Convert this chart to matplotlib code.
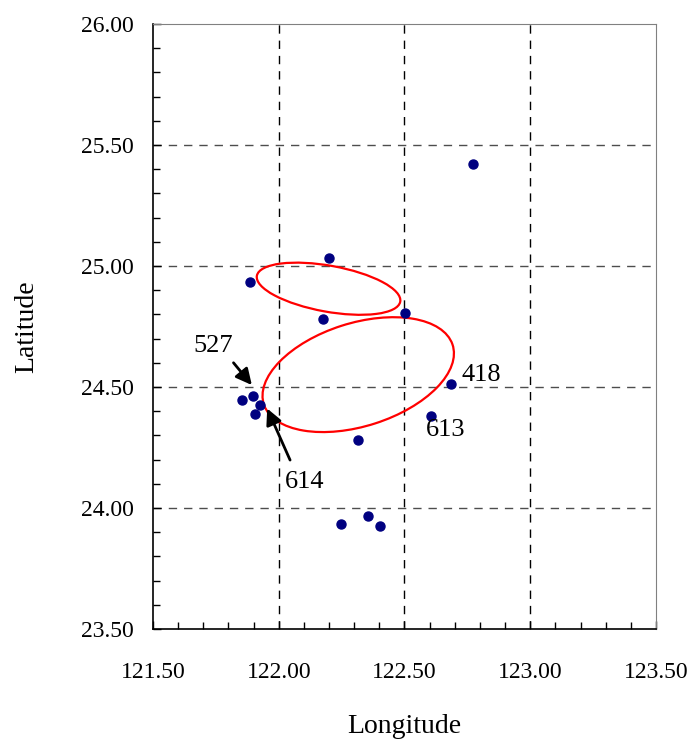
import matplotlib
matplotlib.use('Agg')
import matplotlib.pyplot as plt
from matplotlib.patches import Ellipse
from matplotlib.ticker import MultipleLocator, FormatStrFormatter

plt.rcParams['font.family'] = ['Liberation Serif', 'DejaVu Serif']

# station positions (lon, lat)
lon = [122.772, 122.200, 121.886, 122.176, 122.502, 122.685, 122.605, 122.315,
       121.855, 121.896, 121.925, 121.906, 122.246, 122.356, 122.404]
lat = [25.420, 25.033, 24.934, 24.781, 24.806, 24.512, 24.380, 24.281,
       24.446, 24.461, 24.424, 24.387, 23.935, 23.967, 23.927]

# error ellipses: center lon, center lat, width, height, angle
ell_lon = [122.198, 122.316]
ell_lat = [24.906, 24.551]
ell_w = [0.58, 0.79]
ell_h = [0.19, 0.425]
ell_ang = [-10.7, 18.5]

# labels with arrows: text, text pos, arrow tail, arrow head
arrow_labels = ['527', '614']
arrow_text = [(121.739, 24.669), (122.104, 24.109)]
arrow_tail = [(121.820, 24.600), (122.045, 24.198)]
arrow_head = [(121.893, 24.508), (121.954, 24.411)]

# plain labels
plain_labels = ['418', '613']
plain_pos = [(122.725, 24.55), (122.585, 24.322)]

fig = plt.figure(figsize=(6.94, 7.42), dpi=100)
ax = fig.add_axes([0.2205, 0.1523, 0.7247, 0.8154])

ax.set_xlim(121.5, 123.5)
ax.set_ylim(23.5, 26.0)

for v in [122.0, 122.5, 123.0]:
    ax.axvline(v, color='black', lw=1.0, ls=(0, (6, 5)), zorder=1)
for v in [24.0, 24.5, 25.0, 25.5]:
    ax.axhline(v, color='0.3', lw=1.0, ls=(0, (6, 5)), zorder=1)

for i in range(len(ell_lon)):
    e = Ellipse((ell_lon[i], ell_lat[i]), ell_w[i], ell_h[i], angle=ell_ang[i],
                fill=False, edgecolor='red', lw=1.6, zorder=2)
    ax.add_patch(e)

ax.plot(lon, lat, 'o', color='#000080', markersize=6.5, zorder=3)

for i in range(len(arrow_labels)):
    ax.annotate('', xy=arrow_head[i], xytext=arrow_tail[i],
                arrowprops=dict(arrowstyle='-|>', color='black', lw=2,
                                mutation_scale=24, shrinkA=0, shrinkB=0), zorder=4)
    ax.text(arrow_text[i][0], arrow_text[i][1], arrow_labels[i], fontsize=19,
            ha='center', va='center')

for i in range(len(plain_labels)):
    ax.text(plain_pos[i][0], plain_pos[i][1], plain_labels[i], fontsize=19,
            ha='left', va='center')

ax.xaxis.set_major_locator(MultipleLocator(0.5))
ax.xaxis.set_minor_locator(MultipleLocator(0.1))
ax.yaxis.set_major_locator(MultipleLocator(0.5))
ax.yaxis.set_minor_locator(MultipleLocator(0.1))
ax.xaxis.set_major_formatter(FormatStrFormatter('%.2f'))
ax.yaxis.set_major_formatter(FormatStrFormatter('%.2f'))

ax.tick_params(which='both', direction='in', top=False, right=False, labelsize=17)
ax.tick_params(which='major', length=6, width=1)
ax.tick_params(which='minor', length=5, width=1)
ax.tick_params(axis='x', which='major', pad=24)
ax.tick_params(axis='y', which='major', pad=14)

ax.spines['left'].set_color('black')
ax.spines['bottom'].set_color('black')
ax.spines['left'].set_linewidth(1.2)
ax.spines['bottom'].set_linewidth(1.2)
ax.spines['top'].set_color('0.5')
ax.spines['right'].set_color('0.5')

ax.set_xlabel('Longitude', fontsize=20, labelpad=22)
ax.set_ylabel('Latitude', fontsize=20, labelpad=30)

fig.savefig('out.png', dpi=100)
